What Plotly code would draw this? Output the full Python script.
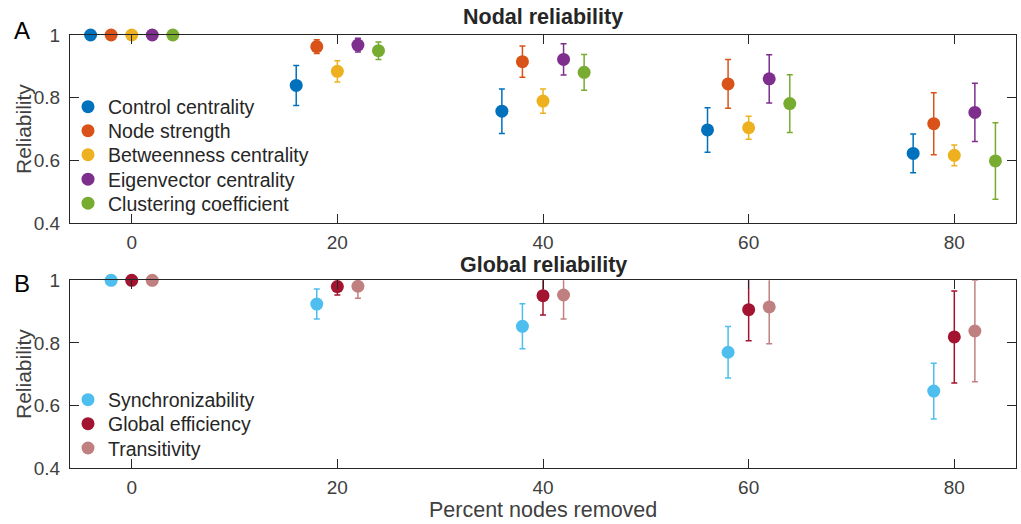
import plotly.graph_objects as go

# ---------------- data ----------------
groups = [0, 20, 40, 60, 80]

nodal_names = ["Control centrality", "Node strength", "Betweenness centrality",
               "Eigenvector centrality", "Clustering coefficient"]
nodal_offsets = [-4, -2, 0, 2, 4]
control_mean = [1.0, 0.839, 0.757, 0.697, 0.622]
control_err = [0.0, 0.064, 0.071, 0.071, 0.062]
strength_mean = [1.0, 0.963, 0.915, 0.844, 0.717]
strength_err = [0.0, 0.022, 0.050, 0.078, 0.099]
between_mean = [1.0, 0.884, 0.789, 0.704, 0.616]
between_err = [0.0, 0.034, 0.039, 0.037, 0.033]
eigen_mean = [1.0, 0.968, 0.922, 0.860, 0.753]
eigen_err = [0.0, 0.022, 0.050, 0.077, 0.093]
cluster_mean = [1.0, 0.950, 0.881, 0.781, 0.598]
cluster_err = [0.0, 0.028, 0.057, 0.092, 0.122]

global_names = ["Synchronizability", "Global efficiency", "Transitivity"]
global_offsets = [-2, 0, 2]
sync_mean = [1.0, 0.924, 0.853, 0.770, 0.646]
sync_err = [0.0, 0.048, 0.072, 0.082, 0.089]
geff_mean = [1.0, 0.980, 0.951, 0.906, 0.819]
geff_err = [0.0, 0.027, 0.062, 0.099, 0.147]
trans_mean = [1.0, 0.981, 0.953, 0.915, 0.838]
trans_err = [0.0, 0.038, 0.077, 0.118, 0.162]

x_ticks = [0, 20, 40, 60, 80]
y_ticks = [0.4, 0.6, 0.8, 1.0]
y_ticklabels = ["0.4", "0.6", "0.8", "1"]

nodal_colors = ["#0072BD", "#D95319", "#EDB120", "#7E2F8E", "#77AC30"]
global_colors = ["#4DBEEE", "#A2142F", "#C08080"]

FONT = "Liberation Sans, Arial, Helvetica, sans-serif"
TXT = "#262626"
TICK = "#404040"

# layout geometry (pixels in the 1021x524 figure)
W, H = 1021, 524
ML, MR, MT, MB = 70, 5, 35, 56
PH = H - MT - MB
PW = W - ML - MR


def py(pix):
    return 1 - (pix - MT) / PH


def px(pix):
    return (pix - ML) / PW


fig = go.Figure()
legend_layouts = {}
legend_counter = [0]


def next_legend(row_y):
    legend_counter[0] += 1
    k = legend_counter[0]
    key = "legend" if k == 1 else "legend%d" % k
    legend_layouts[key] = dict(
        x=px(68), y=py(row_y), xanchor="left", yanchor="middle",
        bgcolor="rgba(0,0,0,0)", font=dict(family=FONT, size=19.5, color=TXT),
        itemwidth=30, borderwidth=0)
    return key


def add_series(name, offset, means, errs, color, xa, ya, row_y):
    xs = [g + offset for g in groups]
    fig.add_trace(go.Scatter(
        x=xs, y=means, mode="markers", xaxis=xa, yaxis=ya,
        marker=dict(size=13, color=color, opacity=0),
        error_y=dict(type="data", array=errs, visible=True, color=color,
                     thickness=1.5, width=3),
        cliponaxis=True, showlegend=False, hoverinfo="skip"))
    fig.add_trace(go.Scatter(
        x=xs, y=means, mode="markers", xaxis=xa, yaxis=ya, name=name,
        marker=dict(size=13, color=color), cliponaxis=False,
        legend=next_legend(row_y)))


nodal_rows = [107, 131, 155, 179.5, 203.5]
nodal_means = [control_mean, strength_mean, between_mean, eigen_mean, cluster_mean]
nodal_errs = [control_err, strength_err, between_err, eigen_err, cluster_err]
for n, o, m, e, c, r in zip(nodal_names, nodal_offsets, nodal_means, nodal_errs,
                            nodal_colors, nodal_rows):
    add_series(n, o, m, e, c, "x", "y", r)

global_rows = [400, 424, 448.3]
global_means = [sync_mean, geff_mean, trans_mean]
global_errs = [sync_err, geff_err, trans_err]
for n, o, m, e, c, r in zip(global_names, global_offsets, global_means, global_errs,
                            global_colors, global_rows):
    add_series(n, o, m, e, c, "x2", "y2", r)

xcommon = dict(range=[-6, 86], tickvals=x_ticks, ticks="inside", ticklen=9,
               tickcolor=TXT, showline=True, linecolor=TXT, linewidth=1,
               mirror="allticks", showgrid=False, zeroline=False,
               ticklabelstandoff=2,
               tickfont=dict(family=FONT, size=19, color=TICK))
ycommon = dict(range=[0.4, 1.0], tickvals=y_ticks, ticktext=y_ticklabels,
               ticks="inside", ticklen=9, tickcolor=TXT, showline=True,
               linecolor=TXT, linewidth=1, mirror="allticks", showgrid=False,
               zeroline=False, ticklabelstandoff=5,
               tickfont=dict(family=FONT, size=19, color=TICK))

fig.update_layout(
    width=W, height=H,
    margin=dict(l=ML, r=MR, t=MT, b=MB),
    paper_bgcolor="white", plot_bgcolor="white",
    font=dict(family=FONT, color=TXT),
    xaxis=dict(domain=[0, 1], anchor="y", **xcommon),
    yaxis=dict(domain=[py(223), 1.0], anchor="x", **ycommon),
    xaxis2=dict(domain=[0, 1], anchor="y2", **xcommon),
    yaxis2=dict(domain=[0.0, py(280.3)], anchor="x2", **ycommon),
    showlegend=True,
    **legend_layouts,
)

annotations = [
    dict(text="<b>Nodal reliability</b>", x=px(543), y=py(17), xref="paper", yref="paper",
         showarrow=False, xanchor="center", yanchor="middle",
         font=dict(family=FONT, size=21.5, color=TXT)),
    dict(text="<b>Global reliability</b>", x=px(543), y=py(265), xref="paper", yref="paper",
         showarrow=False, xanchor="center", yanchor="middle",
         font=dict(family=FONT, size=21.5, color=TXT)),
    dict(text="A", x=px(22), y=py(30), xref="paper", yref="paper",
         showarrow=False, xanchor="center", yanchor="middle",
         font=dict(family=FONT, size=24, color="#000000")),
    dict(text="B", x=px(22), y=py(283), xref="paper", yref="paper",
         showarrow=False, xanchor="center", yanchor="middle",
         font=dict(family=FONT, size=24, color="#000000")),
    dict(text="Reliability", x=px(23), y=py(129), xref="paper", yref="paper",
         showarrow=False, xanchor="center", yanchor="middle", textangle=-90,
         font=dict(family=FONT, size=21, color=TICK)),
    dict(text="Reliability", x=px(23), y=py(374), xref="paper", yref="paper",
         showarrow=False, xanchor="center", yanchor="middle", textangle=-90,
         font=dict(family=FONT, size=21, color=TICK)),
    dict(text="Percent nodes removed", x=px(543), y=py(510), xref="paper", yref="paper",
         showarrow=False, xanchor="center", yanchor="middle",
         font=dict(family=FONT, size=21.5, color=TICK)),
]
fig.update_layout(annotations=annotations)

fig.write_html("out.html",
               config={"displayModeBar": False},
               post_script="document.body.style.margin='0';document.body.style.overflow='hidden';")
